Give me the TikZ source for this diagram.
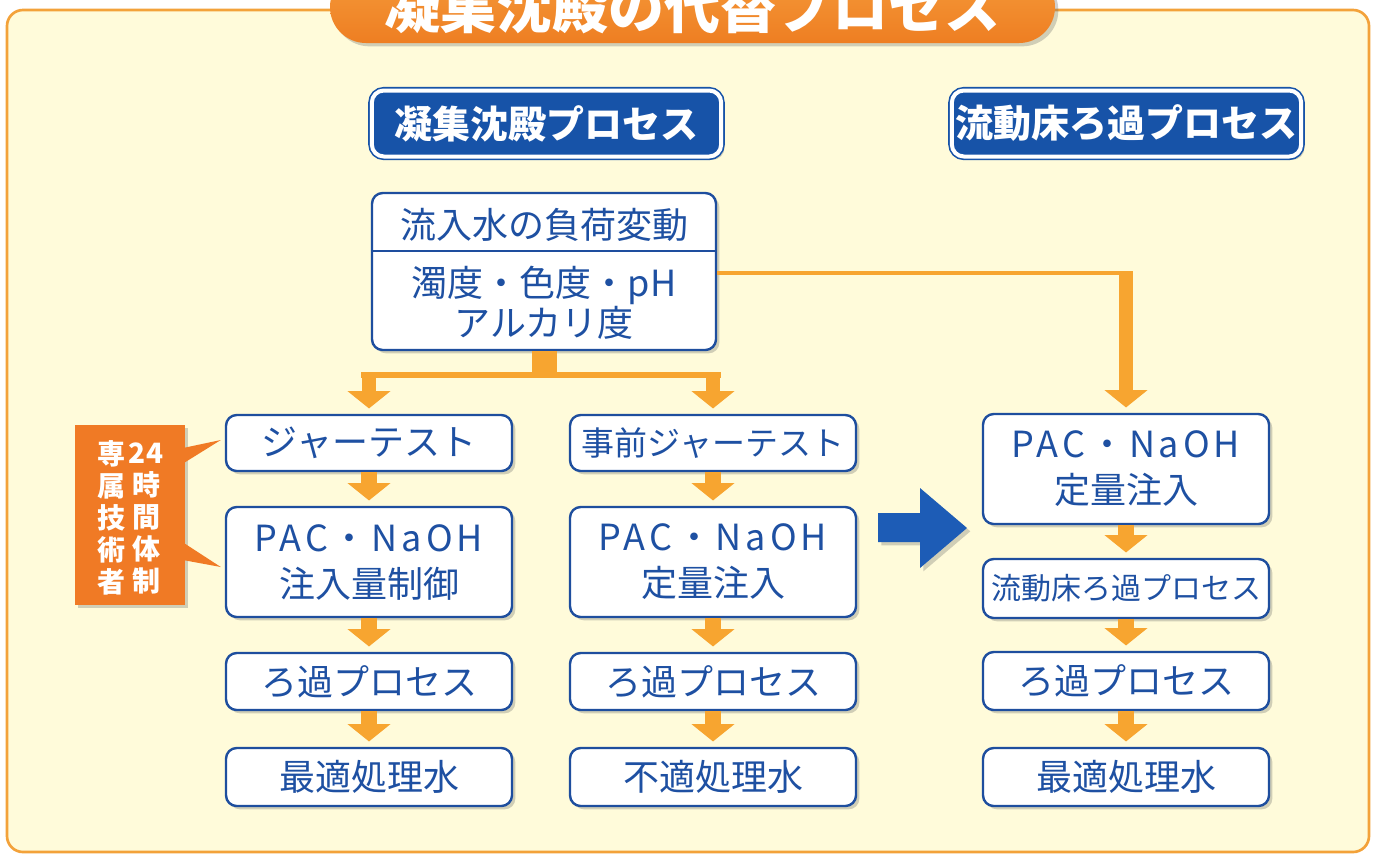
\documentclass[tikz,border=0pt]{standalone}
\usepackage{fontspec}
\setmainfont{Noto Sans CJK JP}
\usetikzlibrary{arrows.meta,shadows,calc}
\definecolor{cream}{HTML}{FFFBDA}
\definecolor{frameor}{HTML}{F3A23A}
\definecolor{pilltop}{HTML}{F59A3A}
\definecolor{pillbot}{HTML}{EE7E22}
\definecolor{arrowor}{HTML}{F7A530}
\definecolor{callor}{HTML}{F07A25}
\definecolor{boxblue}{HTML}{1E4E9E}
\definecolor{txtblue}{HTML}{1E50A2}
\definecolor{hblue}{HTML}{1753A8}
\definecolor{bigblue}{HTML}{1D5CB6}
\newcommand{\pacnaoh}{{\addfontfeature{LetterSpace=11}PAC・NaOH}}
\begin{document}
\begin{tikzpicture}[x=0.75pt,y=-0.75pt,
  shad/.style={drop shadow={shadow xshift=2.5pt,shadow yshift=-2.5pt,opacity=0.3,fill=black!60}},
  pbox/.style={shad,draw=boxblue,line width=1.8pt,fill=white,rounded corners=8pt,text=txtblue,
    align=center,inner sep=0pt,minimum width=214.5pt,font=\fontsize{27pt}{34.5pt}\selectfont},
  hdr/.style={shad,draw=hblue,line width=1.2pt,double=white,double distance=3pt,fill=hblue,
    rounded corners=9pt,text=white,font=\bfseries\fontsize{28.5pt}{30pt}\selectfont,
    minimum width=262pt,minimum height=49.5pt,inner sep=0pt},
  oarr/.style={draw=arrowor,line width=12pt,-{Triangle[width=31.5pt,length=13pt]},shorten >=4pt},
  oline/.style={draw=arrowor,line width=3.5pt},
  calltxt/.style={text=white,align=center,inner sep=0pt,font=\bfseries\fontsize{21pt}{24pt}\selectfont}
]
\useasboundingbox (0,0) rectangle (1376,858);
\clip (0,0) rectangle (1376,858);
\fill[white] (0,0) rectangle (1376,858);
% frame
\draw[draw=frameor,line width=2pt,fill=cream,rounded corners=12pt] (7,10) rectangle (1369,852);
% title pill
\node[shad,top color=pilltop,bottom color=pillbot,rounded corners=27pt,minimum width=543.75pt,
  minimum height=54pt,inner sep=0pt,text=white,font=\bfseries\fontsize{42pt}{44pt}\selectfont]
  (title) at (692.5,7) {凝集沈殿の代替プロセス};
% headers
\node[hdr] (h1) at (546.5,123.5) {凝集沈殿プロセス};
\node[hdr] (h2) at (1126.5,123.5) {流動床ろ過プロセス};
% coordinates for connectors
\coordinate (bar) at (0,375);
\coordinate (hl) at (0,273);
\coordinate (dv) at (0,251);
% top box
\node[pbox,minimum width=258pt,minimum height=117.75pt] (topbox) at (544,271.5) {};
% left column
\node[pbox,minimum height=42pt] (jt) at (369,443) {ジャーテスト};
\node[pbox,minimum height=82.5pt] (pacL) at (369,562) {\pacnaoh\\注入量制御};
\node[pbox,minimum height=42.75pt] (rkL) at (369,681.5) {ろ過プロセス};
\node[pbox,minimum height=43.5pt] (okL) at (369,777) {最適処理水};
% middle column
\node[pbox,minimum height=42pt,font=\fontsize{24.75pt}{30pt}\selectfont] (pj) at (713,443) {事前ジャーテスト};
\node[pbox,minimum height=82.5pt] (pacM) at (713,562) {\pacnaoh\\定量注入};
\node[pbox,minimum height=42.75pt] (rkM) at (713,681.5) {ろ過プロセス};
\node[pbox,minimum height=43.5pt] (ngM) at (713,777) {不適処理水};
% right column
\node[pbox,minimum height=82.5pt] (pacR) at (1126,469) {\pacnaoh\\定量注入};
\node[pbox,minimum height=44.25pt,font=\fontsize{22.5pt}{28pt}\selectfont] (fb) at (1126,588.5) {流動床ろ過プロセス};
\node[pbox,minimum height=43.5pt] (rkR) at (1126,681) {ろ過プロセス};
\node[pbox,minimum height=43.5pt] (okR) at (1126,777) {最適処理水};
% top box content
\draw[boxblue,line width=1.5pt] (topbox.west |- dv) -- (topbox.east |- dv);
\node[text=txtblue,inner sep=0pt,font=\fontsize{27pt}{30pt}\selectfont] (t1) at (544,225) {流入水の負荷変動};
\node[text=txtblue,inner sep=0pt,align=center,font=\fontsize{27pt}{30pt}\selectfont] (t2) at (544,303) {濁度・色度・pH\\アルカリ度};
% connectors: splitter
\coordinate (sp) at (topbox.south |- bar);
\draw[draw=arrowor,line width=18.75pt] (topbox.south) -- (sp);
\draw[draw=arrowor,line width=4.5pt] ($(jt.north |- bar)+(-8,0)$) -- ($(pj.north |- bar)+(8,0)$);
\draw[oarr,line width=10.5pt] ($(jt.north |- bar)+(0,-2)$) -- (jt.north);
\draw[oarr,line width=10.5pt] ($(pj.north |- bar)+(0,-2)$) -- (pj.north);
% connector to right column
\coordinate (rc) at (pacR.north |- hl);
\draw[oline] (topbox.east |- hl) -- ($(rc)+(7,0)$);
\draw[oarr,line width=11pt] ($(rc)+(0,-2)$) -- (pacR.north);
% column arrows
\draw[oarr] (jt) -- (pacL);
\draw[oarr] (pacL) -- (rkL);
\draw[oarr] (rkL) -- (okL);
\draw[oarr] (pj) -- (pacM);
\draw[oarr] (pacM) -- (rkM);
\draw[oarr] (rkM) -- (ngM);
\draw[oarr] (pacR) -- (fb);
\draw[oarr] (fb) -- (rkR);
\draw[oarr] (rkR) -- (okR);
% big blue arrow
\fill[bigblue,shad] (878,513) -- (920,513) -- (920,488) -- (967,528) -- (920,568) -- (920,542) -- (878,542) -- cycle;
% callout
\node[fill=callor,minimum width=82.5pt,minimum height=135pt,inner sep=0pt,shad] (call) at (130,515) {};
\fill[callor] ($(call.north east)+(-1,23)$) -- ($(jt.west)+(-4,-3)$) -- ($(call.north east)+(-1,38)$) -- cycle;
\fill[callor] ($(call.south east)+(-1,-62)$) -- ($(pacL.west)+(-4,5)$) -- ($(call.south east)+(-1,-45)$) -- cycle;
\node[calltxt] (c1) at (111,518) {専\\属\\技\\術\\者};
\node[calltxt] (c2) at (146,518) {24\\時\\間\\体\\制};
\end{tikzpicture}
\end{document}
